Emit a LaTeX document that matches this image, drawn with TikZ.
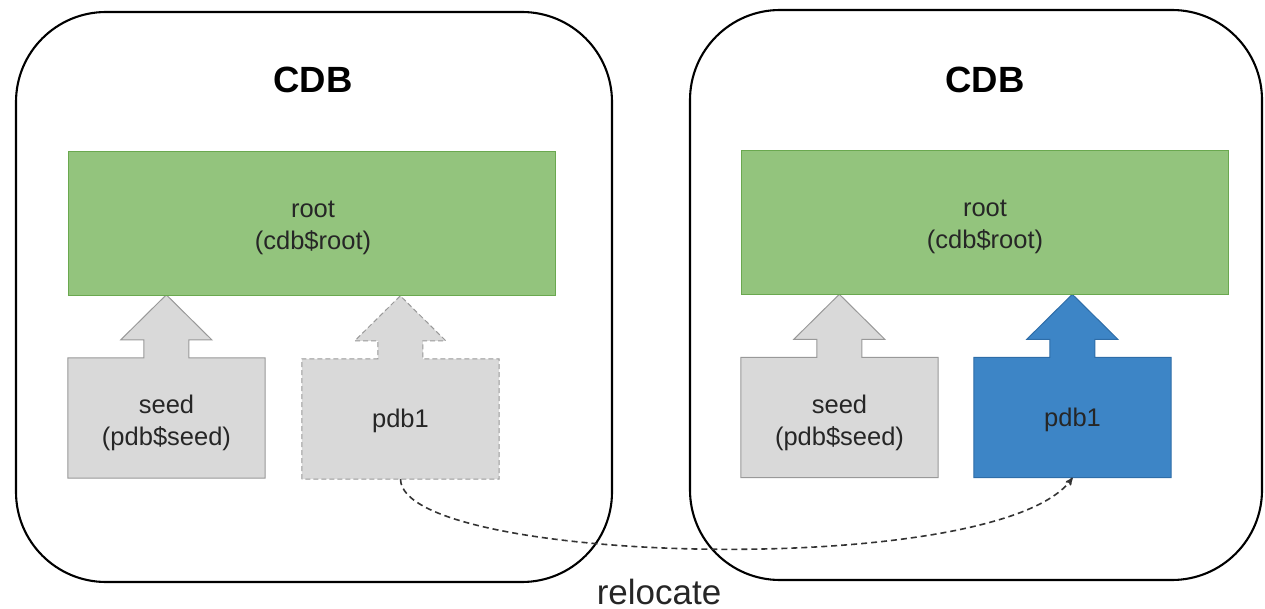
\documentclass[tikz,border=0pt]{standalone}
\usepackage{fontspec}
\setmainfont{Liberation Sans}
\usetikzlibrary{arrows,backgrounds}

\definecolor{rootgreen}{HTML}{93C47D}
\definecolor{rootedge}{HTML}{6AA84F}
\definecolor{seedgray}{HTML}{D9D9D9}
\definecolor{seededge}{HTML}{999999}
\definecolor{pdbblue}{HTML}{3D85C6}
\definecolor{pdbedge}{HTML}{2E6DA8}

\begin{document}
\begin{tikzpicture}[
        x=1pt, y=-1pt,
        >=stealth',
        cdb/.style={draw, line width=2.1pt, rounded corners=90pt},
        cdbtitle/.style={font=\bfseries\fontsize{36.5}{40}\selectfont},
        txt/.style={align=center, text=black!85, font=\fontsize{25.5}{32}\selectfont},
        rootbox/.style={draw=rootedge, fill=rootgreen, line width=1pt, minimum width=487pt, minimum height=144pt, inner sep=0pt},
        slot/.style={minimum width=197pt, minimum height=120pt, inner sep=0pt},
        grayarrow/.style={draw=seededge, fill=seedgray, line width=1pt},
        ghostarrow/.style={grayarrow, dash pattern=on 5pt off 3pt},
        bluearrow/.style={draw=pdbedge, fill=pdbblue, line width=1pt},
        relocline/.style={line width=1.6pt, black!80, dash pattern=on 6pt off 4pt}
        ]
            %\draw[lightgray] (0, 0) grid (1265, 609);
            \useasboundingbox (0, 0) rectangle (1265, 609);

            % source CDB
            \draw[cdb] (16, 12) rectangle (612, 582);
            \node[cdbtitle] (cdbA) at (313, 80) {CDB};
            \node[rootbox] (rootA) at (311.5, 223.5) {};
            \node[txt] (rootAtxt) at (313, 228) {root\\(cdb\$root)};
            \node[slot] (seedA) at (166.5, 418) {};
            \node[txt] (seedAtxt) at (166.5, 423) {seed\\(pdb\$seed)};
            \node[slot] (pdbA) at (400.5, 419) {};
            \node[txt] (pdbAtxt) at (400.5, 421) {pdb1};

            % target CDB
            \draw[cdb] (690, 10) rectangle (1262, 580);
            \node[cdbtitle] (cdbB) at (985, 80) {CDB};
            \node[rootbox] (rootB) at (984.5, 222.5) {};
            \node[txt] (rootBtxt) at (985, 227) {root\\(cdb\$root)};
            \node[slot] (seedB) at (839.5, 417.5) {};
            \node[txt] (seedBtxt) at (839.5, 422.5) {seed\\(pdb\$seed)};
            \node[slot] (pdbB) at (1072.5, 417.5) {};
            \node[txt] (pdbBtxt) at (1072.5, 419.5) {pdb1};

            \begin{scope}[on background layer]
                \draw[grayarrow] (seedA.south west) -- (seedA.north west) -- ++(76, 0) -- ++(0, -18) -- ++(-23, 0) -- ++(45.5, -45) -- ++(45.5, 45) -- ++(-23, 0) -- ++(0, 18) -- (seedA.north east) -- (seedA.south east) -- cycle;
                \draw[ghostarrow] (pdbA.south west) -- (pdbA.north west) -- ++(76, 0) -- ++(0, -18) -- ++(-23, 0) -- ++(45.5, -45) -- ++(45.5, 45) -- ++(-23, 0) -- ++(0, 18) -- (pdbA.north east) -- (pdbA.south east) -- cycle;
                \draw[grayarrow] (seedB.south west) -- (seedB.north west) -- ++(76, 0) -- ++(0, -18) -- ++(-23, 0) -- ++(45.5, -45) -- ++(45.5, 45) -- ++(-23, 0) -- ++(0, 18) -- (seedB.north east) -- (seedB.south east) -- cycle;
                \draw[bluearrow] (pdbB.south west) -- (pdbB.north west) -- ++(76, 0) -- ++(0, -18) -- ++(-23, 0) -- ++(45.5, -45) -- ++(45.5, 45) -- ++(-23, 0) -- ++(0, 18) -- (pdbB.north east) -- (pdbB.south east) -- cycle;
            \end{scope}

            \draw[relocline, ->] (pdbA.south) .. controls (402, 565) and (1000, 580) .. (pdbB.south);
            \node[text=black!85, font=\fontsize{35}{40}\selectfont, anchor=base] (move) at (659, 604) {relocate};
        \end{tikzpicture}
\end{document}
